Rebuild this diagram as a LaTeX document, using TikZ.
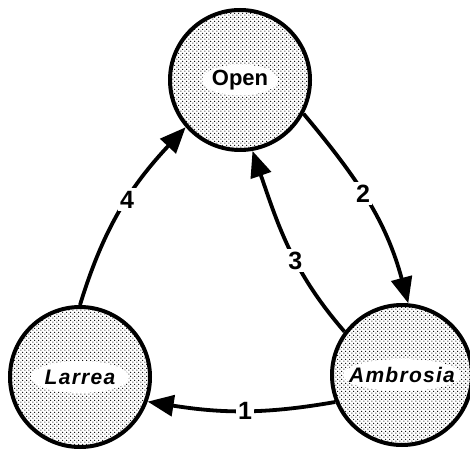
\documentclass[tikz,border=0pt]{standalone}
\usepackage{fontspec}
\setmainfont{Liberation Sans}
\usetikzlibrary{arrows.meta,patterns,shapes.geometric}
\pgfdeclarepatternformonly{stipple}{\pgfpointorigin}{\pgfpoint{4.2pt}{4.2pt}}{\pgfpoint{4.2pt}{4.2pt}}{%
  \pgfpathcircle{\pgfpoint{1.05pt}{1.05pt}}{0.72pt}%
  \pgfpathcircle{\pgfpoint{3.15pt}{3.15pt}}{0.72pt}%
  \pgfusepath{fill}}
\tikzset{
  state/.style={circle,draw=black,line width=4pt,minimum size=140pt,inner sep=0pt,pattern=stipple,pattern color=black},
  tagbg/.style={ellipse,fill=white,inner sep=0pt,minimum height=32pt},
  tagtxt/.style={inner sep=0pt,font=\fontsize{21}{21}\selectfont\bfseries\itshape\addfontfeature{LetterSpace=6}},
  edge/.style={line width=3.8pt,-{Triangle[length=26pt,width=21pt]}},
  num/.style={fill=white,inner sep=2.5pt,font=\fontsize{25}{25}\selectfont\bfseries}
}
\begin{document}
\begin{tikzpicture}[x=1pt,y=1pt]
\useasboundingbox (0,0) rectangle (470,450);
\node[state] (O) at (240,370) {};
\node[state] (L) at (80,73) {};
\node[state] (A) at (402,75) {};
\node[tagbg,minimum width=76pt,minimum height=31pt] (Ob) at (O) {};
\node[tagbg,minimum width=98pt] (Lb) at (L) {};
\node[tagbg,minimum width=118pt] (Ab) at (A) {};
\node[inner sep=0pt,font=\fontsize{22}{22}\selectfont\bfseries] (Ot) at (O) {Open};
\node[tagtxt] (Lt) at (L) {Larrea};
\node[tagtxt] (At) at (A) {Ambrosia};
\draw[edge] (A.202) to[out=190,in=-9] node[num,pos=0.48] (n1) {1} (L.-20);
\draw[edge] (O.-28) to[out=-50,in=105] node[num,pos=0.45] (n2) {2} (A.85);
\draw[edge] (A.143) to[out=131,in=-71] node[num,pos=0.42] (n3) {3} (O.-80);
\draw[edge] (L.90) to[out=73,in=227] node[num,pos=0.56] (n4) {4} (O.221);
\end{tikzpicture}
\end{document}
